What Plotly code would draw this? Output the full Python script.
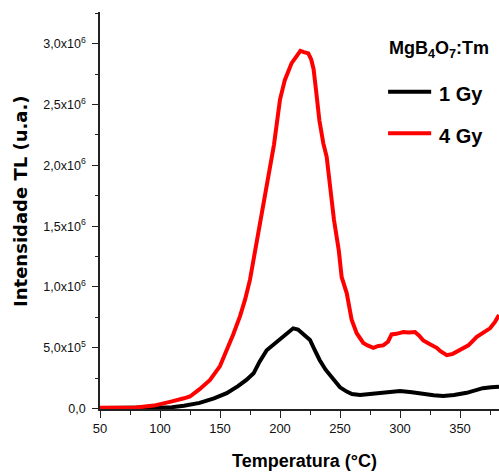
import plotly.graph_objects as go

# 4 Gy (red) curve
temp_4gy = [50, 80, 95, 100, 110, 120, 125, 133, 141.7, 150, 155.6, 161, 166.7, 171, 175, 180, 185,
            190, 195, 200, 204, 209.7, 214, 217, 220, 223.6, 226, 228, 230, 232.8, 236.1, 238.9,
            240.3, 242, 245, 249, 251.4, 255.6, 259.7, 263.9, 269.4, 273, 277.8, 282, 286, 290,
            293, 297, 302.8, 307, 312.5, 316, 319.4, 325, 330.6, 334, 339, 344, 350, 357, 364,
            370, 375, 379, 382.5]
tl_4gy = [8e3, 1e4, 2.5e4, 3.9e4, 6e4, 8.5e4, 1.0e5, 1.6e5, 2.36e5, 3.5e5, 4.8e5, 6.1e5, 7.6e5,
          9.0e5, 1.06e6, 1.34e6, 1.62e6, 1.87e6, 2.17e6, 2.54e6, 2.70e6, 2.84e6, 2.90e6, 2.94e6,
          2.93e6, 2.92e6, 2.87e6, 2.79e6, 2.62e6, 2.37e6, 2.18e6, 2.07e6, 1.95e6, 1.80e6, 1.55e6,
          1.30e6, 1.08e6, 9.5e5, 7.3e5, 6.2e5, 5.4e5, 5.2e5, 5.0e5, 5.15e5, 5.2e5, 5.5e5, 6.1e5,
          6.15e5, 6.3e5, 6.25e5, 6.3e5, 6.0e5, 5.6e5, 5.3e5, 5.0e5, 4.7e5, 4.4e5, 4.5e5, 4.8e5,
          5.2e5, 5.9e5, 6.3e5, 6.6e5, 7.1e5, 7.7e5]

# 1 Gy (black) curve
temp_1gy = [50, 100, 110, 120, 133, 145, 155.6, 165, 172, 178, 183, 188.9, 195, 200, 205, 211, 215,
            220, 225, 229, 233, 238, 244.4, 250, 255.6, 260, 266.7, 273, 280.6, 290, 300, 310,
            319.4, 328, 336, 345, 355.6, 362, 369, 376, 382.5]
tl_1gy = [6e3, 6e3, 1.2e4, 2.4e4, 4.7e4, 8.5e4, 1.27e5, 1.85e5, 2.36e5, 2.9e5, 3.86e5, 4.8e5, 5.3e5,
          5.8e5, 6.2e5, 6.6e5, 6.5e5, 6.1e5, 5.65e5, 4.8e5, 4.0e5, 3.2e5, 2.36e5, 1.75e5, 1.4e5,
          1.2e5, 1.13e5, 1.18e5, 1.27e5, 1.35e5, 1.45e5, 1.35e5, 1.2e5, 1.1e5, 1.04e5, 1.12e5,
          1.3e5, 1.5e5, 1.68e5, 1.75e5, 1.8e5]

x_ticks = [50, 100, 150, 200, 250, 300, 350]
y_tickvals = [0, 5e5, 1e6, 1.5e6, 2e6, 2.5e6, 3e6]
y_ticktext = ["0,0", "5,0x10<sup>5</sup>", "1,0x10<sup>6</sup>", "1,5x10<sup>6</sup>",
              "2,0x10<sup>6</sup>", "2,5x10<sup>6</sup>", "3,0x10<sup>6</sup>"]

series_names = ["1 Gy", "4 Gy"]
series_colors = ["black", "#ff0000"]
legend_title = "MgB<sub>4</sub>O<sub>7</sub>:Tm"

sans = "Liberation Sans, Arial, sans-serif"
wide = "DejaVu Sans, Verdana, sans-serif"

fig = go.Figure()
fig.add_trace(go.Scatter(x=temp_1gy, y=tl_1gy, mode="lines", name=series_names[0],
                         line=dict(color=series_colors[0], width=4), showlegend=False))
fig.add_trace(go.Scatter(x=temp_4gy, y=tl_4gy, mode="lines", name=series_names[1],
                         line=dict(color=series_colors[1], width=4), showlegend=False))

# hand-made legend (paper coordinates)
legend_rows_y = [0.799, 0.6945]
for name, color, ly in zip(series_names, series_colors, legend_rows_y):
    fig.add_shape(type="line", xref="paper", yref="paper", x0=0.722, x1=0.830, y0=ly, y1=ly,
                  line=dict(color=color, width=4))
    fig.add_annotation(xref="paper", yref="paper", x=0.845, y=ly - 0.006, xanchor="left",
                       yanchor="middle", text=name, showarrow=False,
                       font=dict(family=sans, size=20, color="black", weight="bold"))
fig.add_annotation(xref="paper", yref="paper", x=0.720, y=0.905, xanchor="left", yanchor="middle",
                   text=legend_title, showarrow=False,
                   font=dict(family=sans, size=18, color="black", weight="bold"))

# axis titles
fig.add_annotation(xref="paper", yref="paper", x=0.5125, y=-0.132, xanchor="center",
                   yanchor="middle", text="Temperatura (°C)", showarrow=False,
                   font=dict(family=sans, size=18, color="black", weight="bold"))
fig.add_annotation(xref="paper", yref="paper", x=-0.198, y=0.524, xanchor="center",
                   yanchor="middle", textangle=-90, text="Intensidade TL (u.a.)", showarrow=False,
                   font=dict(family=wide, size=18, color="black", weight="bold"))

fig.update_layout(
    width=499, height=473,
    margin=dict(l=100, r=0, t=12, b=64, autoexpand=False),
    paper_bgcolor="white", plot_bgcolor="white",
    font=dict(family=sans, color="black"),
    showlegend=False,
    xaxis=dict(
        range=[50, 382.5], tickmode="array", tickvals=x_ticks, automargin=False,
        ticks="outside", ticklen=7, tickwidth=1.3, tickcolor="#222",
        showline=True, linecolor="#222", linewidth=1.5, showgrid=False, zeroline=False,
        tickfont=dict(size=13, family=sans, color="#111"),
        minor=dict(tickmode="linear", tick0=25, dtick=25, ticks="outside", ticklen=4,
                   tickwidth=1.2, tickcolor="#222"),
    ),
    yaxis=dict(
        range=[-3000, 3.26e6], tickmode="array", tickvals=y_tickvals, ticktext=y_ticktext,
        automargin=False, ticklabelstandoff=4,
        ticks="outside", ticklen=6, tickwidth=1.3, tickcolor="#222",
        showline=True, linecolor="#222", linewidth=1.5, showgrid=False, zeroline=False,
        tickfont=dict(size=12.5, family=sans, color="#111"),
        minor=dict(tickmode="linear", tick0=0, dtick=2.5e5, ticks="outside", ticklen=3,
                   tickwidth=1.2, tickcolor="#222"),
    ),
)

# remove the browser's default 8px body margin so the figure fills the window exactly
fig.write_html("out.html", config={"displayModeBar": False},
               post_script="document.body.style.margin='0';document.body.style.overflow='hidden';")
